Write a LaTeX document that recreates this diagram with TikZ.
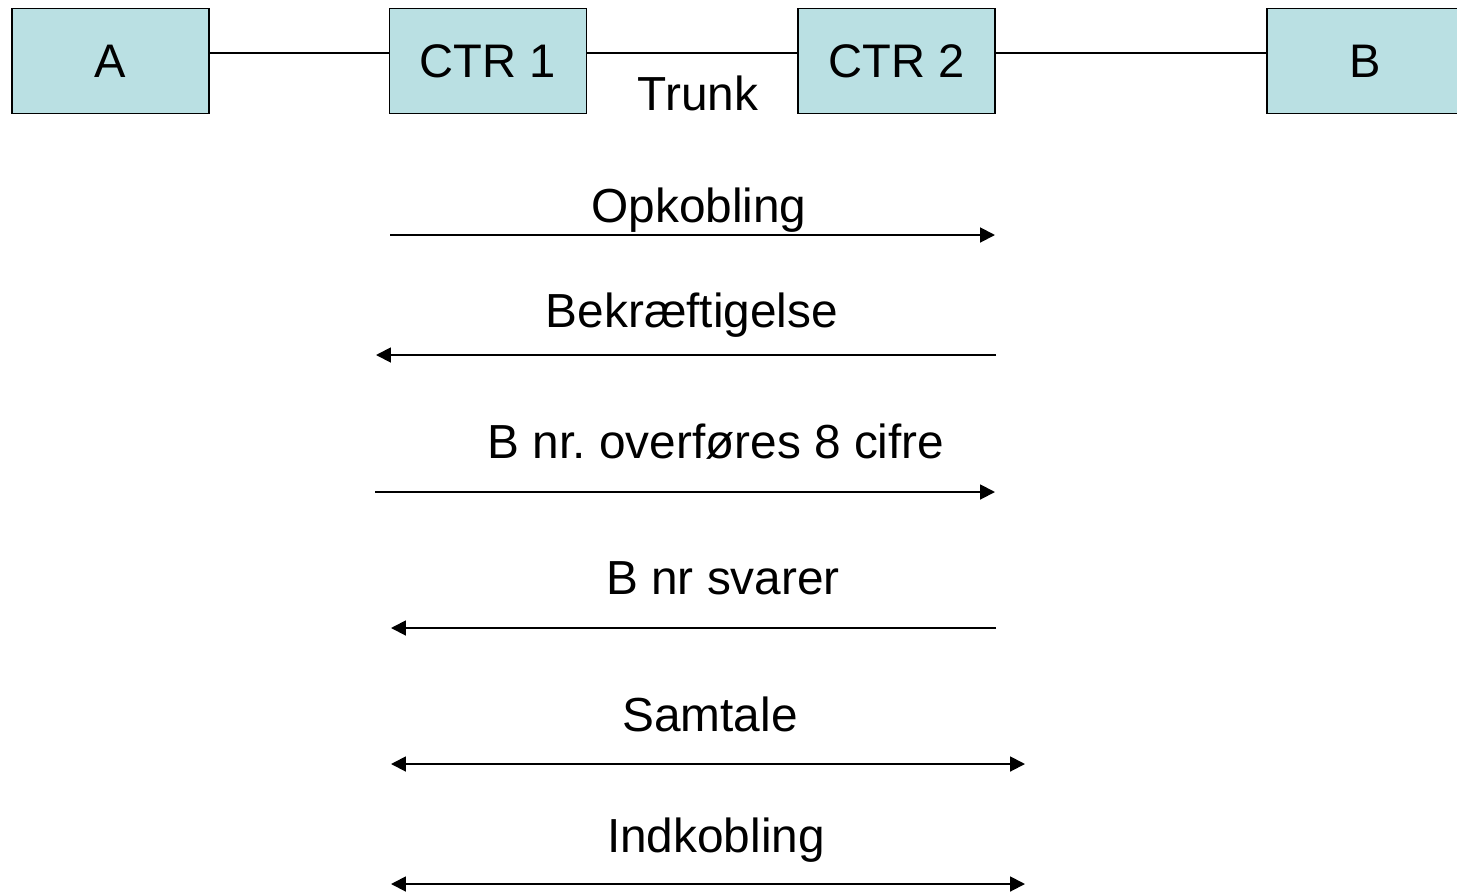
\documentclass[tikz,border=0pt]{standalone}
\usepackage{fontspec}
\setmainfont{Liberation Sans}
\usetikzlibrary{arrows.meta}
\definecolor{boxfill}{RGB}{186,224,227}
\frenchspacing
\begin{document}
\begin{tikzpicture}[x=0.02cm,y=-0.02cm,
  station/.style={draw=black,line width=1.1pt,fill=boxfill,minimum width=3.94cm,
    minimum height=2.1cm,inner sep=0pt,text height=19.2pt,text depth=0pt,
    font=\fontsize{26.8}{30}\selectfont},
  link/.style={line width=1.1pt},
  msg/.style={line width=1.1pt,-{Triangle[length=8.5pt,width=8.5pt]}},
  dmsg/.style={line width=1.1pt,{Triangle[length=8.5pt,width=8.5pt]}-{Triangle[length=8.5pt,width=8.5pt]}},
  lbl/.style={anchor=base,inner sep=0pt,font=\fontsize{27.2}{30}\selectfont}]
\useasboundingbox (0,0) rectangle (1457,893);
\clip (0,0) rectangle (1457,893);
% stations along the line
\node[station] (A) at (110.5,61) {A};
\node[station] (C1) at (488,61) {CTR 1};
\node[station] (C2) at (896.5,61) {CTR 2};
\node[station] (B) at (1365.5,61) {B};
\draw[link] (A.east |- 0,53) -- (C1.west |- 0,53);
\draw[link] (C1.east |- 0,53) -- (C2.west |- 0,53);
\draw[link] (C2.east |- 0,53) -- (B.west |- 0,53);
\node[lbl] (trunk) at (698,110) {Trunk};
% signalling sequence
\coordinate (m1a) at (390,235);  \coordinate (m1b) at (995,235);
\coordinate (m2a) at (996,355);  \coordinate (m2b) at (376,355);
\coordinate (m3a) at (375,492);  \coordinate (m3b) at (995,492);
\coordinate (m4a) at (996,628);  \coordinate (m4b) at (391,628);
\coordinate (m5a) at (391,764);  \coordinate (m5b) at (1025,764);
\coordinate (m6a) at (391,884);  \coordinate (m6b) at (1025,884);
\draw[msg] (m1a) -- (m1b);
\draw[msg] (m2a) -- (m2b);
\draw[msg] (m3a) -- (m3b);
\draw[msg] (m4a) -- (m4b);
\draw[dmsg] (m5a) -- (m5b);
\draw[dmsg] (m6a) -- (m6b);
\node[lbl] (t1) at (699,222) {Opkobling};
\node[lbl] (t2) at (692,327) {Bekræftigelse};
\node[lbl] (t3) at (716,458) {B nr. overføres 8 cifre};
\node[lbl] (t4) at (723,594) {B nr svarer};
\node[lbl] (t5) at (710,731) {Samtale};
\node[lbl] (t6) at (716,852) {Indkobling};
\end{tikzpicture}
\end{document}
